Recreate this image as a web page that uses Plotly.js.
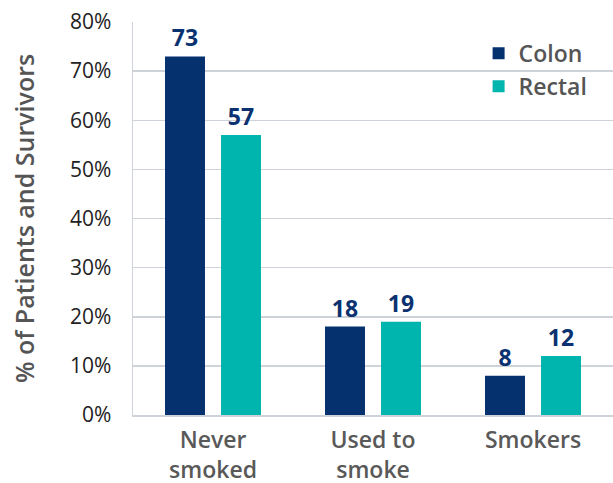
<!DOCTYPE html>
<html>
<head>
<meta charset="utf-8">
<script src="https://cdn.plot.ly/plotly-3.0.1.min.js"></script>
<style>html,body{margin:0;padding:0;background:#fff;}#chart{width:613px;height:483px;}</style>
</head>
<body>
<div id="chart"></div>
<script>
var categories = ["Never<br>smoked", "Used to<br>smoke", "Smokers"];
var colonValues = [73, 18, 8];
var rectalValues = [57, 19, 12];
var yTickVals = [0, 10, 20, 30, 40, 50, 60, 70, 80];
var yTickText = ["0%", "10%", "20%", "30%", "40%", "50%", "60%", "70%", "80%"];

var FONT = "'Open Sans', sans-serif";
var traces = [
  {type: "bar", name: "Colon", x: categories, y: colonValues,
   marker: {color: "#05326f"}, text: colonValues.map(String), textposition: "outside",
   textfont: {family: FONT, size: 23, color: "#0b3270", weight: 700}, cliponaxis: false},
  {type: "bar", name: "Rectal", x: categories, y: rectalValues,
   marker: {color: "#00b5ad"}, text: rectalValues.map(String), textposition: "outside",
   textfont: {family: FONT, size: 23, color: "#0b3270", weight: 700}, cliponaxis: false}
];
var layout = {
  width: 613, height: 483,
  margin: {l: 133, r: 0, t: 22, b: 68},
  paper_bgcolor: "#fff", plot_bgcolor: "#fff",
  barmode: "group", bargap: 0.30, bargroupgap: 0.286,
  showlegend: true,
  legend: {x: 0.72, y: 0.975, xanchor: "left", yanchor: "top", bgcolor: "rgba(0,0,0,0)",
           font: {family: FONT, size: 23, color: "#555", weight: 600}, itemwidth: 30},
  xaxis: {showgrid: false, zeroline: false, showline: true, linecolor: "#cdd3d8", linewidth: 2,
          tickfont: {family: FONT, size: 23, color: "#595959", weight: 600}, ticks: "",
          ticklabelstandoff: 3, fixedrange: true},
  yaxis: {range: [0, 80], tickvals: yTickVals, ticktext: yTickText, showgrid: true, gridcolor: "#cdd3d8",
          gridwidth: 1.5, zeroline: false, showline: true, linecolor: "#cdd3d8", linewidth: 1.5,
          ticks: "", ticklabelstandoff: 16,
          tickfont: {family: FONT, size: 21, color: "#222"},
          title: {text: "% of Patients and Survivors", standoff: 28,
                  font: {family: FONT, size: 25, color: "#555", weight: 600}}}
};
Plotly.newPlot("chart", traces, layout, {staticPlot: true});
</script>
</body>
</html>
